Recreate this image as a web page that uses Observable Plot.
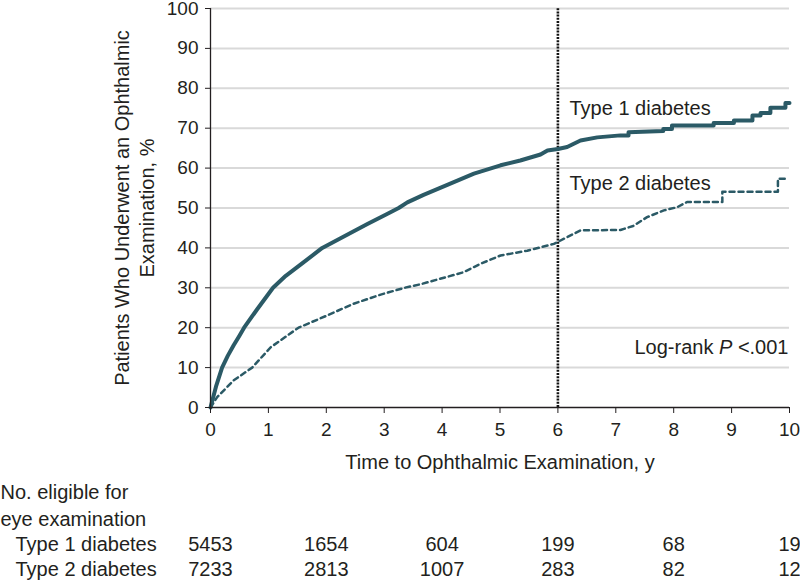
<!DOCTYPE html>
<html>
<head>
<meta charset="utf-8">
<script src="https://cdn.jsdelivr.net/npm/d3@7"></script>
<script src="https://cdn.jsdelivr.net/npm/@observablehq/plot@0.6"></script>
<style>
  html, body { margin: 0; padding: 0; background: #fff; }
  #chart svg { display: block; overflow: visible; }
</style>
</head>
<body>
<div id="chart"></div>
<script>
// Kaplan-Meier style cumulative incidence
const type1Time = [0, 0.1, 0.2, 0.3, 0.4, 0.5, 0.58, 0.8, 1.08, 1.3, 1.6, 1.93, 2.36, 2.71, 3.05, 3.25, 3.4, 3.68, 4.09, 4.55, 5.01, 5.35, 5.70, 5.82, 6.0, 6.16, 6.39, 6.68, 7.08, 7.22, 7.22, 7.82, 7.82, 7.97, 7.97, 8.69, 8.69, 9.04, 9.04, 9.36, 9.36, 9.5, 9.5, 9.67, 9.67, 9.93, 9.93, 10.0];
const type1Pct  = [0, 5.5, 10.0, 13.0, 15.6, 18.0, 20.0, 24.5, 30.0, 33.0, 36.3, 40.0, 43.3, 46.0, 48.5, 50.0, 51.4, 53.3, 55.8, 58.6, 60.7, 61.9, 63.4, 64.4, 64.8, 65.3, 66.9, 67.7, 68.2, 68.2, 69.0, 69.3, 69.8, 69.8, 70.7, 70.7, 71.3, 71.3, 71.9, 71.9, 73.2, 73.2, 73.8, 73.8, 75.1, 75.1, 76.3, 76.3];

const type2Time = [0, 0.115, 0.40, 0.72, 1.04, 1.52, 2.02, 2.47, 2.94, 3.35, 3.63, 4.37, 4.66, 5.01, 5.47, 5.93, 6.16, 6.39, 7.08, 7.3, 7.54, 7.83, 8.06, 8.23, 8.75, 8.84, 8.84, 9.80, 9.80, 9.96];
const type2Pct  = [0, 2.6, 6.8, 10.0, 15.1, 20.0, 23.1, 26.0, 28.3, 30.0, 30.9, 33.9, 36.0, 38.1, 39.3, 41.0, 42.7, 44.4, 44.5, 45.5, 47.7, 49.4, 50.2, 51.5, 51.5, 51.5, 54.1, 54.1, 57.3, 57.3];

// Number at risk table
const atRiskYears = [0, 2, 4, 6, 8, 10];
const type1AtRisk = [5453, 1654, 604, 199, 68, 19];
const type2AtRisk = [7233, 2813, 1007, 283, 82, 12];

// Axis ticks
const xTicks = [0, 1, 2, 3, 4, 5, 6, 7, 8, 9, 10];
const yTicks = [0, 10, 20, 30, 40, 50, 60, 70, 80, 90, 100];

// Annotations
const seriesLabels = ["Type 1 diabetes", "Type 2 diabetes"];
const seriesLabelX = [6.2, 6.2];
const seriesLabelY = [73.4, 54.4];
const markerYear = [6];
const logRankText = ["Log-rank P <.001"];
const logRankX = [10];
const logRankY = [13.5];

const type1 = type1Time.map((t, i) => ({t, p: type1Pct[i]}));
const type2 = type2Time.map((t, i) => ({t, p: type2Pct[i]}));

const teal = "#2b5a66";
const ink = "#231f20";
const font = "'Liberation Sans', Arial, sans-serif";

const chart = Plot.plot({
  width: 800,
  height: 581,
  marginLeft: 210,
  marginRight: 11,
  marginTop: 8,
  marginBottom: 174,
  style: {fontFamily: font, fontSize: "20px", color: ink, background: "#fff", overflow: "visible"},
  x: {domain: [0, 10], label: null},
  y: {domain: [0, 100], label: null},
  marks: [
    Plot.gridY(yTicks.filter(d => d > 0), {stroke: "#d9d9d9", strokeOpacity: 1, strokeWidth: 2}),
    Plot.ruleX(markerYear, {y1: 0, y2: 100, stroke: "#111", strokeWidth: 2.6, strokeDasharray: "2,1.2"}),
    Plot.line(type2, {x: "t", y: "p", stroke: teal, strokeWidth: 2.5, strokeDasharray: "5,4", curve: "linear"}),
    Plot.line(type1, {x: "t", y: "p", stroke: teal, strokeWidth: 4, curve: "linear", strokeLinejoin: "round"}),
    Plot.ruleY([0], {stroke: ink, strokeWidth: 1.3}),
    Plot.ruleX([0], {stroke: ink, strokeWidth: 1.3}),
    Plot.axisY(yTicks, {tickSize: 5, tickPadding: 7, label: null, fontSize: 19, stroke: ink}),
    Plot.axisX(xTicks, {tickSize: 6, tickPadding: 9, label: null, fontSize: 19, stroke: ink}),
    // axis titles
    Plot.text(["Time to Ophthalmic Examination, y"], {frameAnchor: "bottom", lineAnchor: "bottom", dy: 61, fontSize: 20, fill: ink}),
    Plot.text(["Patients Who Underwent an Ophthalmic"], {frameAnchor: "left", rotate: -90, textAnchor: "middle", lineAnchor: "bottom", dx: -82, fontSize: 20, fill: ink}),
    Plot.text(["Examination, %"], {frameAnchor: "left", rotate: -90, textAnchor: "middle", lineAnchor: "bottom", dx: -57, fontSize: 20, fill: ink}),
    // series labels
    Plot.text(seriesLabels, {x: (d, i) => seriesLabelX[i], y: (d, i) => seriesLabelY[i], text: d => d, textAnchor: "start", lineAnchor: "bottom", fontSize: 20, fill: ink}),
    Plot.text(logRankText, {x: (d, i) => logRankX[i], y: (d, i) => logRankY[i], text: d => d, textAnchor: "end", lineAnchor: "bottom", dx: -1, fontSize: 20, fill: ink, className: "logrank"}),
    // number at risk table
    Plot.text(["No. eligible for"], {frameAnchor: "bottom-left", textAnchor: "start", lineAnchor: "bottom", dx: -210, dy: 91, fontSize: 20, fill: ink}),
    Plot.text(["eye examination"], {frameAnchor: "bottom-left", textAnchor: "start", lineAnchor: "bottom", dx: -210, dy: 118, fontSize: 20, fill: ink}),
    Plot.text(["Type 1 diabetes"], {frameAnchor: "bottom-left", textAnchor: "start", lineAnchor: "bottom", dx: -195, dy: 143, fontSize: 20, fill: ink}),
    Plot.text(["Type 2 diabetes"], {frameAnchor: "bottom-left", textAnchor: "start", lineAnchor: "bottom", dx: -195, dy: 168, fontSize: 20, fill: ink}),
    Plot.text(atRiskYears, {x: d => d, text: (d, i) => String(type1AtRisk[i]), frameAnchor: "bottom", lineAnchor: "bottom", dy: 143, fontSize: 20, fill: ink}),
    Plot.text(atRiskYears, {x: d => d, text: (d, i) => String(type2AtRisk[i]), frameAnchor: "bottom", lineAnchor: "bottom", dy: 168, fontSize: 20, fill: ink})
  ]
});

document.getElementById("chart").appendChild(chart);

// italicise the P in the log-rank note
d3.select(chart).selectAll("g.logrank text").each(function() {
  const el = d3.select(this);
  const txt = el.text();
  if (txt.includes("P <")) {
    el.text("");
    el.append("tspan").text("Log-rank ");
    el.append("tspan").attr("font-style", "italic").text("P");
    el.append("tspan").text(" <.001");
  }
});
</script>
</body>
</html>
